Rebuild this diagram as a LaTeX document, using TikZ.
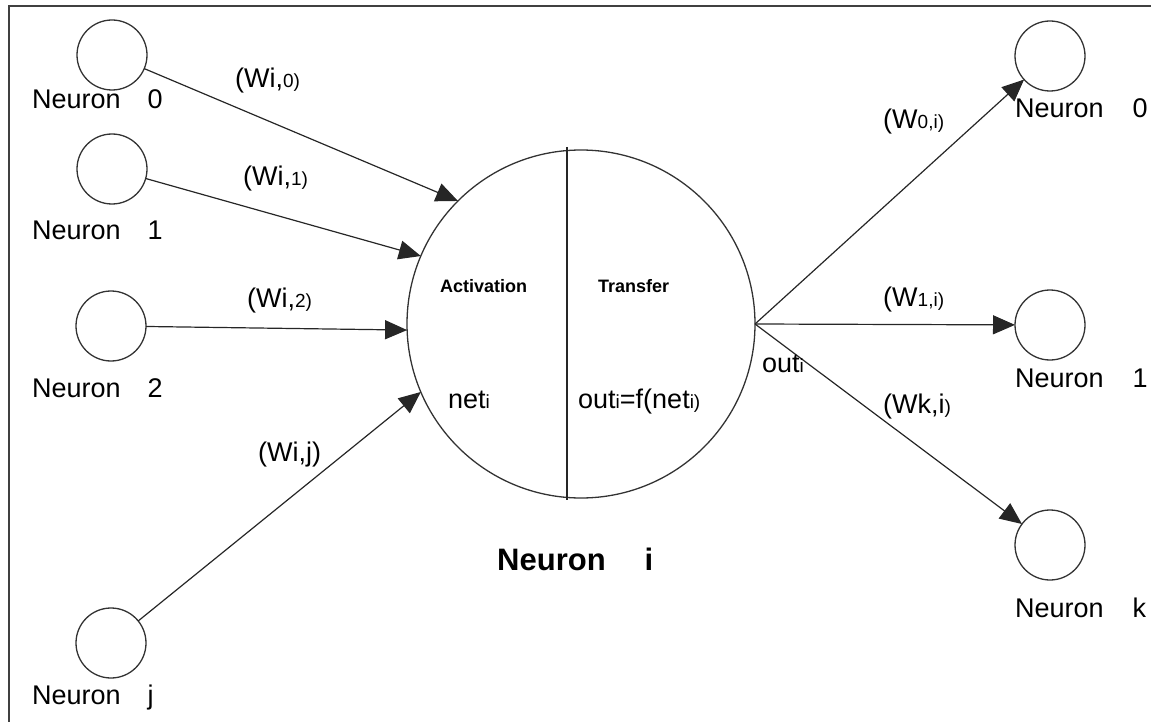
\documentclass[tikz,border=0pt]{standalone}
\usepackage{fontspec}
\setmainfont{Liberation Sans}
\usetikzlibrary{arrows.meta}
\begin{document}
\begin{tikzpicture}[x=1pt,y=-1pt,
  unit/.style={circle, draw=black!80, line width=1.3pt, minimum size=70pt, inner sep=0pt, outer sep=0pt},
  core/.style={circle, draw=black!80, line width=1.3pt, minimum size=348pt, inner sep=0pt, outer sep=0pt},
  link/.style={draw=black!85, line width=1.2pt, -{Triangle[length=22pt,width=19pt]}},
  plain/.style={draw=black!85, line width=1.3pt},
  lbl/.style={anchor=base west, inner sep=0pt, font=\fontsize{27}{30}\selectfont},
  head/.style={anchor=base west, inner sep=0pt, font=\bfseries\fontsize{18}{22}\selectfont},
  title/.style={anchor=base west, inner sep=0pt, font=\bfseries\fontsize{31}{36}\selectfont},
]
\newcommand\lo[1]{{\fontsize{19}{22}\selectfont #1}}
\useasboundingbox (0,0) rectangle (1151,722);
\clip (0,0) rectangle (1151,722);

% outer frame, open to the right and bottom
\draw[line width=2pt, black!75] (1160,6.5) -- (8.5,6.5) -- (8.5,730);

% input neurons
\node[unit] (in0) at (112,55) {};
\node[unit] (in1) at (112,169) {};
\node[unit] (in2) at (111,326) {};
\node[unit] (inj) at (111,643) {};

% output neurons
\node[unit] (out0) at (1050,56) {};
\node[unit] (out1) at (1050,325) {};
\node[unit] (outk) at (1050,545) {};

% neuron i with activation / transfer halves
\node[core] (core) at (581,324) {};
\coordinate (dtop) at (567,147);
\coordinate (dbot) at (567,500);
\draw[plain] (dtop) -- (dbot);

% weighted inputs
\draw[link] (in0) -- (core.135);
\draw[link] (in1) -- (core.157);
\draw[link] (in2) -- (core.182);
\draw[link] (inj) -- (core.203);

% outputs
\draw[link] (core.east) -- (out0);
\draw[link] (core.east) -- (out1);
\draw[link] (core.east) -- (outk);

% neuron names
\node[lbl] (l0) at (32,109) {Neuron\hspace{27pt}0};
\node[lbl] (l1) at (32,240) {Neuron\hspace{27pt}1};
\node[lbl] (l2) at (32,397) {Neuron\hspace{27pt}2};
\node[lbl] (lj) at (32,704) {Neuron\hspace{27pt}j};
\node[lbl] (r0) at (1015,118) {Neuron\hspace{29pt}0};
\node[lbl] (r1) at (1015,387) {Neuron\hspace{29pt}1};
\node[lbl] (rk) at (1015,617) {Neuron\hspace{29pt}k};

% weights
\node[lbl] (w0) at (235,88) {(Wi,\lo{0)}};
\node[lbl] (w1) at (243,186) {(Wi,\lo{1)}};
\node[lbl] (w2) at (247,307) {(Wi,\lo{2)}};
\node[lbl] (wj) at (258,461) {(Wi,j)};
\node[lbl] (v0) at (883,129) {(W\lo{0,i)}};
\node[lbl] (v1) at (883,306) {(W\lo{1,i)}};
\node[lbl] (vk) at (883,413) {(Wk,i\lo{)}};

% inside the neuron
\node[head] (act) at (440,292) {Activation};
\node[head] (tra) at (598,292) {Transfer};
\node[lbl] (net) at (448,408) {net\lo{i}};
\node[lbl] (fun) at (578,408) {out\lo{i}=f(net\lo{i)}};
\node[lbl] (outl) at (762,372) {out\lo{i}};

\node[title] (name) at (497,570) {Neuron\hspace{39pt}i};
\end{tikzpicture}
\end{document}
